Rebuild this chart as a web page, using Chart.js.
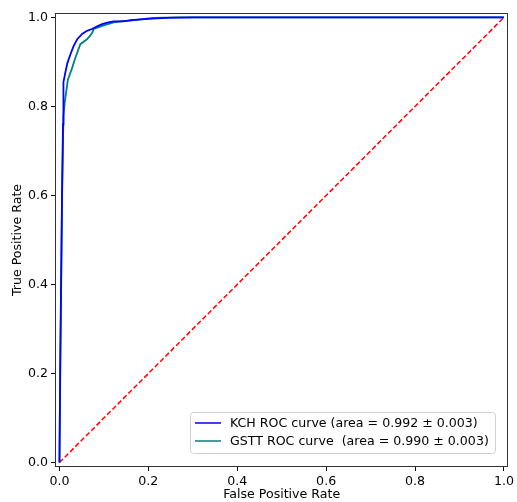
<!DOCTYPE html>
<html>
<head>
<meta charset="utf-8">
<script src="https://cdn.jsdelivr.net/npm/chart.js@4/dist/chart.umd.min.js"></script>
<style>
  html, body { margin: 0; padding: 0; background: #fff; }
  #wrap { width: 517px; height: 502px; }
</style>
</head>
<body>
<div id="wrap"><canvas id="rocChart" width="517" height="502"></canvas></div>
<script>
// ROC points
const kchFpr = [0, 0.002, 0.006, 0.008, 0.009, 0.013, 0.018, 0.025, 0.032, 0.040, 0.051, 0.062, 0.073, 0.085, 0.096, 0.110, 0.122, 0.144, 0.160, 0.200, 0.240, 0.300, 1.0];
const kchTpr = [0, 0.25, 0.62, 0.76, 0.855, 0.875, 0.898, 0.918, 0.936, 0.951, 0.963, 0.970, 0.974, 0.980, 0.985, 0.989, 0.991, 0.991, 0.994, 0.997, 0.999, 1.0, 1.0];
const gsttFpr = [0, 0.002, 0.006, 0.009, 0.012, 0.019, 0.028, 0.036, 0.047, 0.062, 0.069, 0.074, 0.077, 0.096, 0.122, 0.144, 0.160, 0.210, 0.264, 1.0];
const gsttTpr = [0, 0.22, 0.60, 0.778, 0.81, 0.86, 0.885, 0.91, 0.940, 0.951, 0.959, 0.966, 0.974, 0.981, 0.989, 0.992, 0.993, 0.999, 1.0, 1.0];
const chanceLine = [0, 1];

const seriesLabels = [
  "KCH ROC curve (area = 0.992 \u00b1 0.003)",
  "GSTT ROC curve  (area = 0.990 \u00b1 0.003)"
];
const tickValues = [0, 0.2, 0.4, 0.6, 0.8, 1.0];
const axisTitles = { x: "False Positive Rate", y: "True Positive Rate" };

const FONT = "'DejaVu Sans', sans-serif";
const FONT_SIZE = 12.6;

function toPoints(xs, ys) {
  return xs.map((x, i) => ({ x: x, y: ys[i] }));
}

// box around the plot + legend in the lower right, like matplotlib
const frameAndLegend = {
  id: "frameAndLegend",
  afterDraw(chart) {
    const { ctx, chartArea } = chart;
    ctx.save();
    ctx.strokeStyle = "#333";
    ctx.lineWidth = 1;
    ctx.strokeRect(Math.round(chartArea.left) + 0.5, Math.round(chartArea.top) + 0.5,
      Math.round(chartArea.right - chartArea.left) - 1, Math.round(chartArea.bottom - chartArea.top) - 1);

    const items = chart.data.datasets.filter(d => d.inLegend);
    const boxLeft = 190, boxTop = 412, boxW = 305, rowH = 18;
    const boxH = items.length * rowH + 5;
    ctx.fillStyle = "rgba(255,255,255,0.8)";
    ctx.strokeStyle = "#d0d0d0";
    ctx.lineWidth = 1;
    ctx.beginPath();
    ctx.roundRect(boxLeft + 0.5, boxTop + 0.5, boxW, boxH, 3);
    ctx.fill();
    ctx.stroke();

    ctx.font = FONT_SIZE + "px " + FONT;
    ctx.textBaseline = "middle";
    items.forEach((d, i) => {
      const y = boxTop + 11 + i * rowH;
      ctx.strokeStyle = d.borderColor;
      ctx.lineWidth = 1.5;
      ctx.beginPath();
      ctx.moveTo(195, y);
      ctx.lineTo(221, y);
      ctx.stroke();
      ctx.fillStyle = "#000";
      ctx.fillText(d.label, 230, y + 0.5);
    });
    ctx.restore();
  }
};

function axisOptions(axis) {
  return {
    type: "linear",
    min: -0.01,
    max: 1.01,
    afterBuildTicks: (scale) => {
      scale.ticks = tickValues.map(v => ({ value: v }));
    },
    afterFit: (scale) => {
      if (axis === "x") scale.height = 35;
      else scale.width = 55;
    },
    ticks: {
      color: "#000",
      font: { family: FONT, size: FONT_SIZE },
      padding: 3,
      maxRotation: 0,
      callback: (v) => Number(v).toFixed(1)
    },
    grid: {
      drawOnChartArea: false,
      drawTicks: true,
      tickLength: 4,
      color: "#000"
    },
    border: { display: false },
    title: {
      display: true,
      text: axisTitles[axis],
      color: "#000",
      font: { family: FONT, size: FONT_SIZE },
      padding: axis === "x" ? { top: 0, bottom: 0 } : { top: 10, bottom: 0 }
    }
  };
}

new Chart(document.getElementById("rocChart"), {
  type: "scatter",
  data: {
    datasets: [
      {
        label: seriesLabels[0],
        data: toPoints(kchFpr, kchTpr),
        borderColor: "#0000ff",
        borderWidth: 1.8,
        inLegend: true
      },
      {
        label: seriesLabels[1],
        data: toPoints(gsttFpr, gsttTpr),
        borderColor: "#008080",
        borderWidth: 1.8,
        inLegend: true
      },
      {
        label: "chance",
        data: toPoints(chanceLine, chanceLine),
        borderColor: "#ff0000",
        borderWidth: 1.5,
        borderDash: [5, 2.5],
        inLegend: false
      }
    ].map(d => Object.assign(d, { showLine: true, pointRadius: 0, tension: 0, fill: false }))
  },
  options: {
    responsive: false,
    animation: false,
    layout: { padding: { top: 13, right: 7, left: 0, bottom: 0 } },
    scales: {
      x: axisOptions("x"),
      y: axisOptions("y")
    },
    plugins: {
      legend: { display: false },
      tooltip: { enabled: false }
    }
  },
  plugins: [frameAndLegend]
});
</script>
</body>
</html>
